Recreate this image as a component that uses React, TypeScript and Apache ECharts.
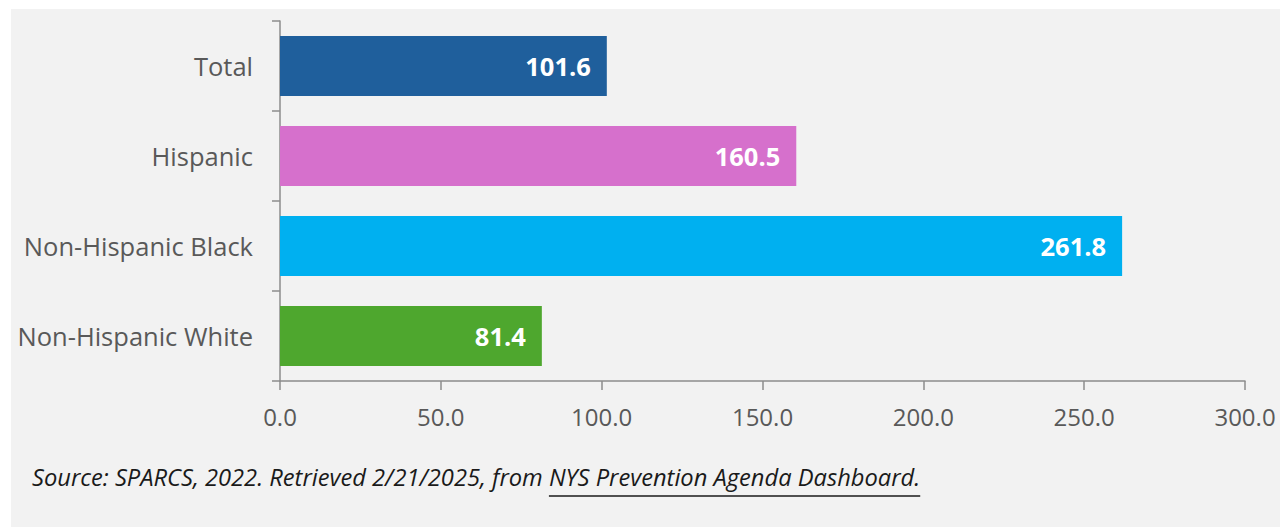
import React, { useEffect, useRef } from "react";
import * as echarts from "echarts";

const categories = ["Total", "Hispanic", "Non-Hispanic Black", "Non-Hispanic White"];
const values = [101.6, 160.5, 261.8, 81.4];
const barColors = ["#1F5F9C", "#D670CC", "#00B0F0", "#4EA72E"];
const sourcePrefix = "Source: SPARCS, 2022. Retrieved 2/21/2025, from ";
const sourceLink = "NYS Prevention Agenda Dashboard.";

const FONT = "'Open Sans', 'Noto Sans', sans-serif";

function measure(text: string, font: string): number {
  const c = document.createElement("canvas");
  const ctx = c.getContext("2d");
  if (!ctx) return text.length * 9;
  ctx.font = font;
  return ctx.measureText(text).width;
}

export default function App() {
  const ref = useRef<HTMLDivElement>(null);
  useEffect(() => {
    if (!ref.current) return;
    const chart = echarts.init(ref.current, undefined, { renderer: "svg" });
    const srcSize = 23.7;
    const srcFont = `italic ${srcSize}px 'Open Sans'`;
    const srcX = 21;
    const srcY = 472;
    const prefixW = measure(sourcePrefix, srcFont);
    const linkW = measure(sourceLink, srcFont);
    chart.setOption({
      animation: false,
      backgroundColor: "#F2F2F2",
      grid: { left: 269, top: 12, right: 35, bottom: 146, containLabel: false },
      xAxis: {
        type: "value",
        min: 0,
        max: 300,
        interval: 50,
        axisLine: { show: true, lineStyle: { color: "#8C8C8C", width: 1.5 } },
        axisTick: { show: true, length: 9, lineStyle: { color: "#8C8C8C", width: 1.5 } },
        splitLine: { show: false },
        axisLabel: {
          formatter: (v: number) => v.toFixed(1),
          fontSize: 24,
          color: "#595959",
          fontFamily: FONT,
          margin: 23,
        },
      },
      yAxis: {
        type: "category",
        data: categories,
        inverse: true,
        axisLine: { show: true, lineStyle: { color: "#8C8C8C", width: 1.5 } },
        axisTick: { show: true, length: 8, alignWithLabel: false, lineStyle: { color: "#8C8C8C", width: 1.5 } },
        axisLabel: { fontSize: 25.5, color: "#595959", fontFamily: FONT, margin: 27 },
      },
      series: [
        {
          type: "bar",
          barWidth: 60,
          data: values.map((v, i) => ({ value: v, itemStyle: { color: barColors[i] } })),
          label: {
            show: true,
            position: "insideRight",
            distance: 16,
            color: "#FFFFFF",
            fontWeight: "bold",
            fontSize: 25.5,
            fontFamily: FONT,
            formatter: (p: any) => Number(p.value).toFixed(1),
          },
        },
      ],
      graphic: [
        {
          type: "text",
          left: srcX,
          top: srcY - 16,
          style: { text: sourcePrefix, font: srcFont, fill: "#1A1A1A" },
        },
        {
          type: "text",
          left: srcX + prefixW,
          top: srcY - 16,
          style: { text: sourceLink, font: srcFont, fill: "#1A1A1A" },
        },
        {
          type: "line",
          shape: { x1: srcX + prefixW, y1: srcY + 15, x2: srcX + prefixW + linkW, y2: srcY + 15 },
          style: { stroke: "#1A1A1A", lineWidth: 1.5 },
        },
      ],
    });
    return () => chart.dispose();
  }, []);
  return (
    <div style={{ position: "absolute", left: 0, top: 0, width: 1280, height: 527, background: "#FFFFFF" }}>
      <div ref={ref} style={{ position: "absolute", left: 11, top: 9, width: 1269, height: 518 }} />
    </div>
  );
}
